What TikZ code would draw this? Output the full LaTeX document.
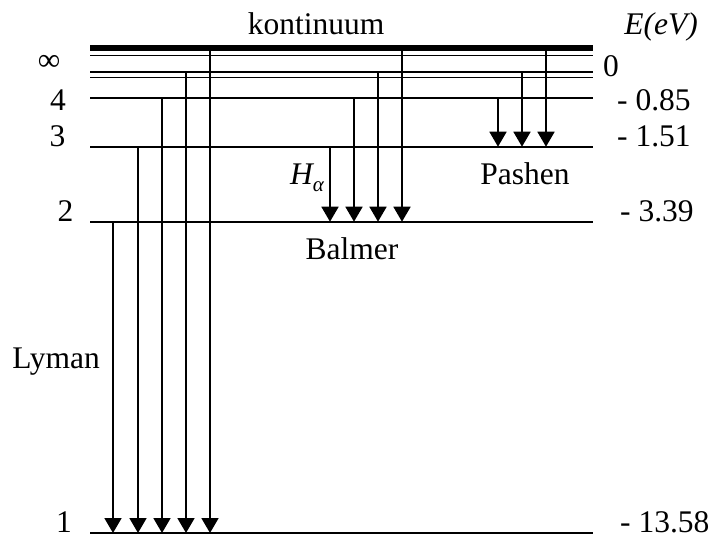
\documentclass[tikz,border=0pt]{standalone}
\usepackage{fontspec}
\setmainfont{Liberation Serif}
\usetikzlibrary{arrows.meta}

\begin{document}
\begin{tikzpicture}[
	         x              = 1pt,
	         y              = -1pt,
	         level/.style   = {line width = 1.8pt},
	         trans/.style   = {line width = 1.8pt, -{Triangle[length = 15pt, width = 17pt]}},
	         lbl/.style     = {inner sep = 0, text depth = 0pt, font = \fontsize{31.5}{36}\selectfont}]
	  \useasboundingbox (0,0) rectangle (711,537);
	  % energy levels
	  \coordinate (lvc)  at (90,48);
	  \coordinate (lv6)  at (90,55.5);
	  \coordinate (lv5a) at (90,72);
	  \coordinate (lv5)  at (90,77.5);
	  \coordinate (lv4)  at (90,98.3);
	  \coordinate (lv3)  at (90,146.7);
	  \coordinate (lv2)  at (90,221.7);
	  \coordinate (lv1)  at (90,533);
	  \draw [line width = 6pt] (lvc) -- ++(503,0);
	  \foreach \lv in {lv6, lv5a, lv5, lv4, lv3, lv2, lv1}
	    \draw [level] (\lv) -- ++(503,0);
	  % Lyman
	  \foreach \x/\from in {113/lv2, 138/lv3, 162/lv4, 186/lv5a, 210/lvc}
	    \draw [trans] (\x,0 |- \from) -- (\x,0 |- lv1);
	  % Balmer
	  \foreach \x/\from in {330/lv3, 354/lv4, 378/lv5a, 402/lvc}
	    \draw [trans] (\x,0 |- \from) -- (\x,0 |- lv2);
	  % Pashen
	  \foreach \x/\from in {498/lv4, 522/lv5a, 546/lvc}
	    \draw [trans] (\x,0 |- \from) -- (\x,0 |- lv3);
	  % labels
	  \node [lbl, anchor = base] (kont) at (316,35) {kontinuum};
	  \node [lbl, anchor = base] (unit) at (661,35) {\itshape E(eV)};
	  \node [lbl] (ninf) at (49,63) {∞};
	  \node [lbl, anchor = base] (n4) at (58,110.5) {4};
	  \node [lbl, anchor = base] (n3) at (57.5,146.7) {3};
	  \node [lbl, anchor = base] (n2) at (65.5,221.7) {2};
	  \node [lbl, anchor = base] (n1) at (64,532) {1};
	  \node [lbl, anchor = base west] (e0) at (603,77) {0};
	  \node [lbl, anchor = base west] (e4) at (617,110.7) {- 0.85};
	  \node [lbl, anchor = base west] (e3) at (617,146.7) {- 1.51};
	  \node [lbl, anchor = base west] (e2) at (620,221.7) {- 3.39};
	  \node [lbl, anchor = base west] (e1) at (620,532) {- 13.58};
	  \node [lbl, anchor = base] (pash) at (525,185) {Pashen};
	  \node [lbl, anchor = base] (balm) at (352,259) {Balmer};
	  \node [lbl, anchor = base] (lym)  at (56,368) {Lyman};
	  \node [lbl, anchor = base west] (ha) at (290,185)
	        {\itshape H\raisebox{-0.2em}{\fontsize{21}{21}\selectfont α}};
	\end{tikzpicture}
\end{document}
